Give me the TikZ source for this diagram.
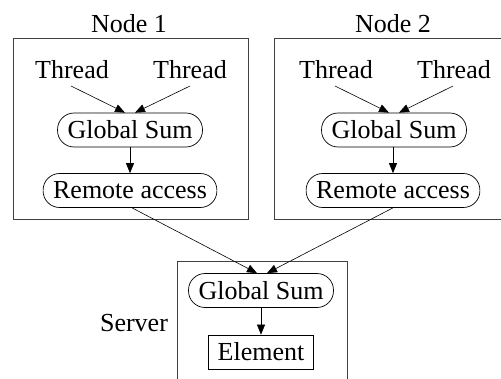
\documentclass[tikz,border=0pt]{standalone}
\usepackage{fontspec}
\setmainfont{Liberation Serif}
\usetikzlibrary{arrows.meta}
\begin{document}
\begin{tikzpicture}[x=1pt,y=-1pt,
  every node/.style={font=\fontsize{26}{30}\selectfont, inner sep=0pt},
  lbl/.style={anchor=base},
  pill/.style={draw, line width=0.7pt, rounded corners=16.5pt, minimum height=34pt, inner xsep=10pt},
  elem/.style={draw, line width=0.7pt, minimum height=34pt, inner xsep=9pt},
  frame/.style={draw, line width=0.8pt, black!75},
  conn/.style={line width=0.6pt, -{Triangle[length=10pt,width=8pt]}}]
\useasboundingbox (0,0) rectangle (501,378);
\clip (0,0) rectangle (501,378);
% frames
\draw[frame] (13,38) rectangle (248,219);
\draw[frame] (274,38) rectangle (509,219);
\draw[frame] (177,392) -- (177,261) -- (347,261) -- (347,392);
% titles
\node[lbl] (n1) at (129,32) {Node 1};
\node[lbl] (n2) at (393,32) {Node 2};
\node[lbl] (srv) at (134,331) {Server};
% node 1
\node[lbl] (t11) at (72,78) {Thread};
\node[lbl] (t12) at (190,78) {Thread};
\node[pill] (g1) at (130,130) {Global Sum};
\node[pill] (r1) at (130,190.5) {Remote access};
% node 2
\node[lbl] (t21) at (336,78) {Thread};
\node[lbl] (t22) at (454,78) {Thread};
\node[pill] (g2) at (394,130) {Global Sum};
\node[pill] (r2) at (393,190.5) {Remote access};
% server
\node[pill] (gs) at (261,290.5) {Global Sum};
\node[elem] (el) at (261,352) {Element};
% connectors
\draw[conn] ([xshift=-1pt,yshift=-8pt]t11.base) -- ([xshift=-5pt]g1.north);
\draw[conn] ([xshift=0pt,yshift=-8pt]t12.base) -- ([xshift=5pt]g1.north);
\draw[conn] ([xshift=-1pt,yshift=-8pt]t21.base) -- ([xshift=-5pt]g2.north);
\draw[conn] ([xshift=-1pt,yshift=-8pt]t22.base) -- ([xshift=5pt]g2.north);
\draw[conn] (g1.south) -- (r1.north);
\draw[conn] ([xshift=-1pt]g2.south) -- ([xshift=-1pt]g2.south |- r2.north);
\draw[conn] ([xshift=2pt]r1.south) -- ([xshift=-4pt]gs.north);
\draw[conn] (r2.south) -- ([xshift=6pt]gs.north);
\draw[conn] (gs.south) -- (el.north);
\end{tikzpicture}
\end{document}
